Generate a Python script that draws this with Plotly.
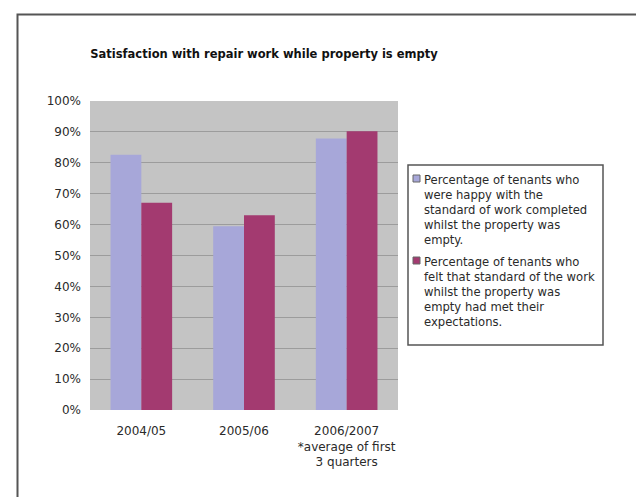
import plotly.graph_objects as go

categories = ["2004/05", "2005/06", "2006/2007<br>*average of first<br>3 quarters"]
happy_standard = [0.826, 0.595, 0.879]
met_expectations = [0.671, 0.630, 0.902]
series_names = [
    "Percentage of tenants who<br>were happy with the<br>standard of work completed<br>whilst the property was<br>empty.",
    "Percentage of tenants who<br>felt that standard of the work<br>whilst the property was<br>empty had met their<br>expectations.",
]
series_colors = ["#A7A7D9", "#A33A70"]
title_text = "Satisfaction with repair work while property is empty"

fig = go.Figure()
fig.add_trace(go.Bar(x=categories, y=happy_standard, name=series_names[0],
                     marker=dict(color=series_colors[0], line=dict(width=0))))
fig.add_trace(go.Bar(x=categories, y=met_expectations, name=series_names[1],
                     marker=dict(color=series_colors[1], line=dict(width=0))))

W, H = 636, 497
L, R, T, B = 90, 398, 101, 410
pw, ph = R - L, B - T

def px(x):
    return (x - L) / pw

def py(y):
    return (B - y) / ph

FONT = "DejaVu Sans, Verdana, sans-serif"
TXT = "#2a2a2a"

# legend drawn as a boxed key to the right of the plot
shapes = [
    dict(type="path", xref="paper", yref="paper",
         path=f"M {px(17.5)} {py(500)} L {px(17.5)} {py(14.5)} L {px(640)} {py(14.5)}",
         line=dict(color="#555", width=2)),
    dict(type="rect", xref="paper", yref="paper",
         x0=px(408), x1=px(603), y0=py(165), y1=py(345),
         line=dict(color="#555", width=1.5), fillcolor="white"),
]
annotations = []
item_tops = [170.5, 252.5]
for name, color, top in zip(series_names, series_colors, item_tops):
    shapes.append(dict(type="rect", xref="paper", yref="paper",
                       x0=px(413), x1=px(420), y0=py(top + 4.5), y1=py(top + 11.5),
                       line=dict(color="#666", width=1), fillcolor=color))
    annotations.append(dict(text=name, xref="paper", yref="paper",
                            x=px(422), y=py(top), xanchor="left", yanchor="top",
                            align="left", showarrow=False,
                            font=dict(family=FONT, size=11.6, color=TXT)))

fig.update_layout(
    width=W, height=H,
    margin=dict(l=L, r=W - R, t=T, b=H - B),
    paper_bgcolor="white",
    plot_bgcolor="#C4C4C4",
    font=dict(family=FONT, size=12, color=TXT),
    title=dict(text="<b>" + title_text + "</b>", xref="container", x=264 / W,
               xanchor="center", yref="container", y=1 - 54 / H, yanchor="middle",
               font=dict(family=FONT, size=11.5, color="#111")),
    barmode="group", bargap=0.40, bargroupgap=0,
    showlegend=False,
    xaxis=dict(showgrid=False, ticks="", showline=False, ticklabelstandoff=12,
               tickfont=dict(family=FONT, size=12, color=TXT)),
    yaxis=dict(range=[0, 1], dtick=0.1, tickformat=".0%",
               showgrid=True, gridcolor="#9C9C9C", gridwidth=1,
               zeroline=False, showline=False, ticks="", ticklabelstandoff=8,
               tickfont=dict(family=FONT, size=12, color=TXT)),
    shapes=shapes,
    annotations=annotations,
)

fig.write_html("out.html")
